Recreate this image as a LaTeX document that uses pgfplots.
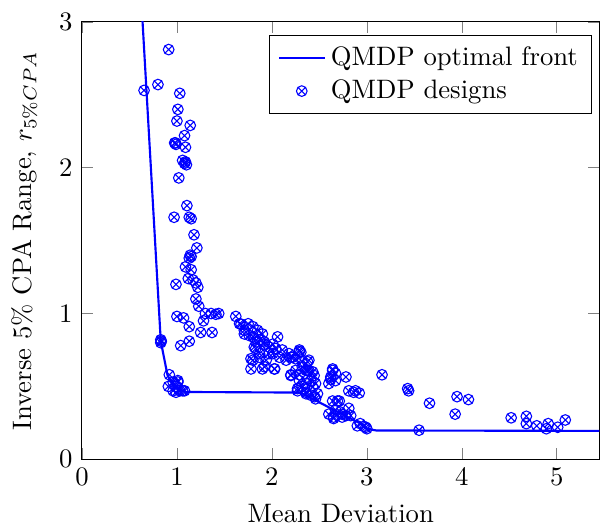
\documentclass[border=0pt]{standalone}
\usepackage{pgfplots}
\pgfplotsset{compat=1.18}
\begin{document}
\begin{tikzpicture}
\begin{axis}[
  scale only axis,
  width=194pt, height=164pt,
  xmin=0, xmax=5.45, ymin=0, ymax=3,
  xtick={0,1,2,3,4,5}, ytick={0,1,2,3},
  xlabel={Mean Deviation},
  ylabel={Inverse 5\% CPA Range, $r_{5\%CPA}$},
  ylabel shift=1.3pt,
  legend cell align=left,
  legend style={at={(0.985,0.97)}, anchor=north east},
]
\addplot[blue, thick] coordinates {
(0.625,3.15) (0.83,0.81) (0.90,0.58) (0.97,0.49) (1.10,0.462) (2.30,0.458)
(2.71,0.32) (2.92,0.25) (3.00,0.21) (3.10,0.198) (5.6,0.195)
};
\addlegendentry{QMDP optimal front}
\addplot[blue, only marks, mark=otimes, mark size=2pt] coordinates {
(0.913,2.81) (0.654,2.53) (0.80,2.57) (1.03,2.51) (1.01,2.40) (1.00,2.32)
(1.14,2.29) (1.08,2.22) (0.976,2.17) (0.99,2.16) (0.985,2.17) (1.09,2.14)
(1.06,2.05) (1.08,2.03) (1.10,2.02) (1.09,2.04) (1.02,1.93) (1.105,1.74)
(0.97,1.66) (1.13,1.66) (1.15,1.65) (1.18,1.54) (1.21,1.45) (1.14,1.40)
(1.13,1.38) (1.15,1.39) (1.09,1.32) (1.15,1.30) (1.12,1.24) (1.17,1.23)
(1.20,1.21) (1.22,1.18) (0.99,1.20) (1.20,1.10) (1.23,1.05) (1.30,1.00)
(1.36,1.00) (1.41,0.995) (1.44,1.00) (1.00,0.98) (1.07,0.97) (1.13,0.91)
(1.28,0.95) (1.25,0.87) (1.37,0.87) (0.83,0.80) (0.83,0.82) (0.835,0.81)
(1.13,0.81) (1.04,0.78)
(0.92,0.58) (0.96,0.53) (1.01,0.54) (0.91,0.50) (0.99,0.50) (1.03,0.47)
(1.08,0.47) (0.96,0.47) (1.06,0.47) (0.99,0.46) (1.01,0.53)
(1.62,0.98) (1.66,0.93) (1.75,0.93) (1.80,0.91) (1.85,0.885) (1.90,0.86)
(1.71,0.885) (1.76,0.85) (1.82,0.83) (1.87,0.82) (1.92,0.805) (2.06,0.84)
(1.83,0.76) (1.78,0.69) (1.94,0.68) (1.87,0.70) (1.90,0.62) (2.03,0.62)
(1.97,0.725) (2.04,0.76) (2.11,0.75) (2.18,0.725) (2.01,0.79) (2.29,0.75)
(2.32,0.67) (2.39,0.68) (2.22,0.70) (2.25,0.61) (2.20,0.58) (2.29,0.58)
(2.36,0.61) (2.43,0.60) (2.41,0.54) (2.46,0.52) (2.32,0.50) (2.27,0.485)
(2.36,0.45) (2.45,0.43) (2.48,0.45)
(1.675,0.927) (1.71,0.86) (1.80,0.84) (1.85,0.805) (1.92,0.79) (1.97,0.77)
(1.815,0.77) (1.87,0.725) (1.80,0.68) (1.92,0.635) (2.025,0.62) (1.78,0.62)
(2.01,0.725) (2.08,0.70) (2.15,0.68) (2.20,0.70) (2.25,0.69) (2.29,0.74)
(2.375,0.67) (2.32,0.635) (2.39,0.61) (2.445,0.575) (2.20,0.575) (2.29,0.54)
(2.36,0.52) (2.43,0.495) (2.41,0.44) (2.46,0.415) (2.27,0.47) (2.36,0.46)
(2.305,0.735) (2.375,0.61)
(2.64,0.61) (2.62,0.565) (2.60,0.52) (2.67,0.54) (2.78,0.565) (2.81,0.47)
(2.88,0.47) (2.92,0.455) (2.60,0.31) (2.65,0.29) (2.71,0.40) (2.67,0.34)
(2.74,0.29) (2.81,0.35) (2.83,0.30) (2.72,0.325) (2.78,0.30) (2.90,0.23)
(2.93,0.245) (2.97,0.225) (3.00,0.21) (3.16,0.58) (3.43,0.485) (3.44,0.47)
(3.66,0.385) (3.95,0.43) (4.07,0.41) (3.93,0.31) (3.55,0.20) (4.52,0.285)
(4.68,0.295) (4.68,0.245) (4.79,0.23) (4.91,0.245) (4.89,0.21) (5.01,0.22)
(5.09,0.27)
(2.64,0.62) (2.67,0.59) (2.62,0.55) (2.86,0.46) (2.64,0.40) (2.69,0.40)
(2.65,0.28) (2.74,0.31) (2.99,0.22)
};
\addlegendentry{QMDP designs}
\end{axis}
\path (current axis.north west) ++(0pt,8.2pt);
\path (current axis.outer west) ++(-1pt,0pt);
\end{tikzpicture}
\end{document}
